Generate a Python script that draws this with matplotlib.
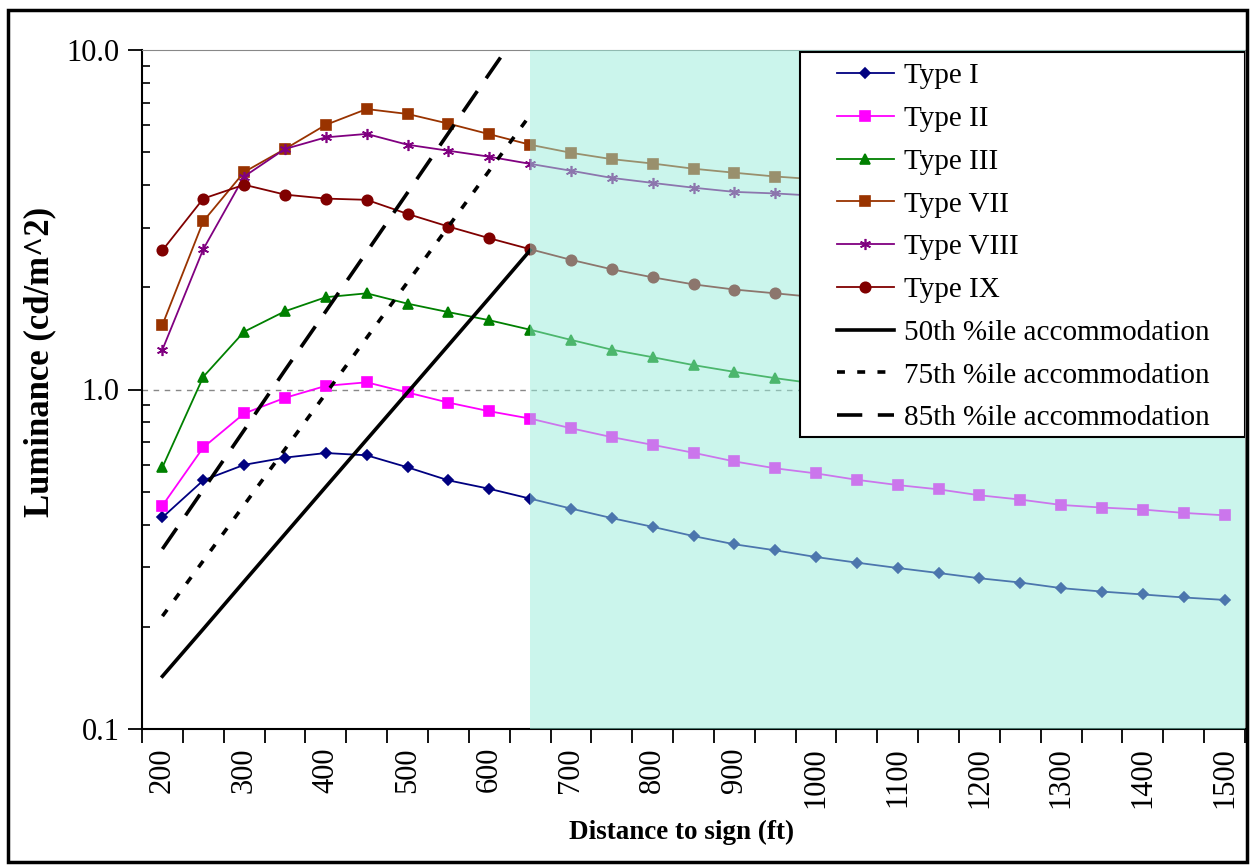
import matplotlib
matplotlib.use("Agg")
import matplotlib.pyplot as plt
from matplotlib.patches import Rectangle

plt.rcParams['font.family'] = ['Liberation Serif', 'DejaVu Serif']

# Distance categories (ft)
distance = [200, 250, 300, 350, 400, 450, 500, 550, 600, 650, 700, 750, 800, 850,
            900, 950, 1000, 1050, 1100, 1150, 1200, 1250, 1300, 1350, 1400, 1450, 1500]

# Luminance (cd/m^2) per sign sheeting type
type_1 = [0.42, 0.54, 0.60, 0.63, 0.65, 0.64, 0.59, 0.54, 0.51, 0.477, 0.446, 0.418, 0.394, 0.370,
          0.350, 0.336, 0.321, 0.309, 0.298, 0.288, 0.278, 0.270, 0.260, 0.254, 0.249, 0.244, 0.240]
type_2 = [0.455, 0.675, 0.85, 0.945, 1.025, 1.05, 0.98, 0.915, 0.863, 0.821, 0.769, 0.724, 0.687, 0.651,
          0.614, 0.586, 0.566, 0.542, 0.523, 0.508, 0.488, 0.474, 0.457, 0.449, 0.443, 0.433, 0.426]
type_3 = [0.59, 1.09, 1.48, 1.70, 1.87, 1.92, 1.79, 1.69, 1.60, 1.50, 1.40, 1.31, 1.245, 1.18,
          1.127, 1.08, 1.04, 1.01, 0.98, 0.955, 0.93, 0.91, 0.89, 0.87, 0.855, 0.84, 0.825]
type_7 = [1.55, 3.13, 4.37, 5.11, 6.02, 6.70, 6.48, 6.07, 5.65, 5.26, 4.98, 4.77, 4.63, 4.47,
          4.35, 4.24, 4.16, 4.08, 4.01, 3.95, 3.89, 3.84, 3.79, 3.74, 3.70, 3.66, 3.62]
type_8 = [1.31, 2.59, 4.24, 5.11, 5.53, 5.66, 5.26, 5.05, 4.85, 4.62, 4.41, 4.20, 4.06, 3.93,
          3.82, 3.78, 3.72, 3.66, 3.61, 3.56, 3.51, 3.47, 3.43, 3.39, 3.36, 3.33, 3.30]
type_9 = [2.57, 3.65, 4.01, 3.75, 3.65, 3.62, 3.29, 3.02, 2.79, 2.59, 2.41, 2.26, 2.14, 2.04,
          1.97, 1.92, 1.87, 1.83, 1.79, 1.76, 1.73, 1.70, 1.67, 1.65, 1.63, 1.61, 1.59]

# Accommodation curves (200-650 ft only)
acc_50 = [0.143, 0.197, 0.272, 0.375, 0.517, 0.712, 0.98, 1.35, 1.86, 2.57]
acc_75 = [0.215, 0.313, 0.457, 0.667, 0.973, 1.42, 2.07, 3.02, 4.41, 6.43]
acc_85 = [0.339, 0.507, 0.759, 1.14, 1.70, 2.54, 3.80, 5.69, 8.51, 12.7]

series = [
    ("Type I", type_1, "#000080", "D", 5.5),
    ("Type II", type_2, "#FF00FF", "s", 7),
    ("Type III", type_3, "#008000", "^", 7.5),
    ("Type VII", type_7, "#993300", "s", 7.5),
    ("Type VIII", type_8, "#800080", (6, 2, 0), 8),
    ("Type IX", type_9, "#800000", "o", 7.5),
]

fig = plt.figure(figsize=(12.5, 8.65), dpi=100)
ax = fig.add_axes([142 / 1250, 1 - 729 / 865, 1103 / 1250, 679 / 865])

pos = list(range(len(distance)))
for name, vals, col, mk, ms in series:
    ax.plot(pos, vals, color=col, marker=mk, markersize=ms, lw=1.3,
            markeredgewidth=1.2, label=name, zorder=3)

acc_pos = pos[:len(acc_50)]
ax.plot(acc_pos, acc_50, color="black", lw=2.6, label="50th %ile accommodation", zorder=4)
ax.plot(acc_pos, acc_75, color="black", lw=2.6, dashes=(2.2, 3.4),
        label="75th %ile accommodation", zorder=4)
ax.plot(acc_pos, acc_85, color="black", lw=2.6, dashes=(7, 4.3),
        label="85th %ile accommodation", zorder=4)

# shaded region beyond 650 ft
ax.add_patch(Rectangle((9, 0.1), 17.5, 9.9, facecolor=(0.6, 0.93, 0.86),
                       alpha=0.5, edgecolor="none", zorder=5))

ax.axhline(1.0, color="#888888", lw=1.0, dashes=(4, 4), zorder=1)

ax.set_yscale("log")
ax.set_ylim(0.1, 10)
ax.set_xlim(-0.5, len(distance) - 0.5)

ax.set_yticks([0.1, 1, 10])
ax.set_yticklabels(["0.1", "1.0", "10.0"])
ax.tick_params(axis="y", which="major", direction="out", length=10, width=1.3,
               labelsize=22, pad=6)
ax.tick_params(axis="y", which="minor", direction="in", length=6, width=1.2)
ax.yaxis.set_minor_formatter(plt.NullFormatter())

ax.set_xticks([p - 0.5 for p in pos] + [len(distance) - 0.5])
ax.set_xticklabels([])
ax.set_xticks(pos[::2], minor=True)
ax.set_xticklabels([str(d) for d in distance[::2]], minor=True, rotation=90)
ax.tick_params(axis="x", which="major", direction="out", length=10, width=1.3)
ax.tick_params(axis="x", which="minor", length=0, labelsize=22, pad=13)

for s in ["left", "bottom"]:
    ax.spines[s].set_linewidth(1.5)
ax.spines["top"].set_color("#888888")
ax.spines["right"].set_color("#999999")

ax.set_xlabel("Distance to sign (ft)", fontsize=19.5, fontweight="bold")
ax.xaxis.set_label_coords(0.4896, -0.134)
ax.set_ylabel("Luminance (cd/m^2)", fontsize=25, fontweight="bold")
ax.yaxis.set_label_coords(-0.078, 0.540)

# legend box
ax.add_patch(Rectangle((0.5966, 0.430), 0.4034, 0.567, transform=ax.transAxes,
                       facecolor="white", edgecolor="black", lw=1.5, zorder=10))
leg = ax.legend(loc="upper left", bbox_to_anchor=(0.630, 0.981), frameon=False,
                fontsize=21, handlelength=1.95, handletextpad=0.35, labelspacing=0.56,
                borderpad=0, borderaxespad=0)
leg.set_zorder(11)

fig.patches.append(Rectangle((8 / 1250, 3 / 865), 1239 / 1250, 852 / 865,
                             transform=fig.transFigure, fill=False,
                             edgecolor="black", lw=2.5))

fig.savefig("out.png", dpi=100)
